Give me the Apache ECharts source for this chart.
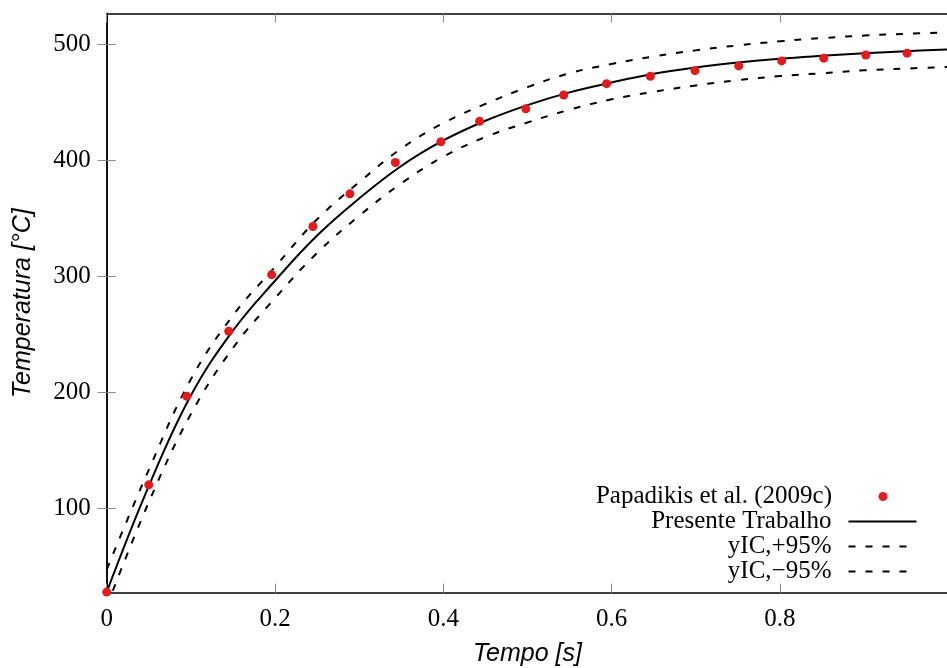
<!DOCTYPE html>
<html>
<head>
<meta charset="utf-8">
<script src="https://cdn.jsdelivr.net/npm/echarts@6/dist/echarts.min.js"></script>
<style>
html,body{margin:0;padding:0;background:#fff;}
#c{width:947px;height:668px;}
</style>
</head>
<body>
<div id="c"></div>
<script>
// ---- data ----
const tempo = [0, 0.05, 0.10, 0.15, 0.20, 0.25, 0.30, 0.35, 0.40, 0.45, 0.50, 0.55, 0.60, 0.65, 0.70, 0.75, 0.80, 0.85, 0.90, 0.95, 1.00];
const presente = [27.5, 119, 197, 253, 296, 335, 367, 395, 417, 434, 447.5, 458.5, 467, 474.5, 480, 484.2, 487.5, 490, 492.2, 494, 495.4];
const icMais = [47, 133, 211, 266, 308, 349, 381, 410, 432, 448.5, 463, 475, 483, 489.5, 494.7, 499, 502.5, 505.3, 507.5, 509, 510.3];
const icMenos = [15, 105, 181, 238, 281, 320, 352, 380, 403, 420, 432.5, 443.5, 452.5, 459, 464.5, 469, 472.5, 475, 477.5, 479, 480.5];
const papX = [0, 0.050, 0.095, 0.145, 0.196, 0.245, 0.289, 0.343, 0.397, 0.443, 0.498, 0.543, 0.594, 0.646, 0.699, 0.751, 0.802, 0.852, 0.902, 0.951];
const papY = [27.5, 120, 196.5, 252.5, 301.3, 342.8, 371, 398, 415.8, 433.5, 444.3, 456.2, 466, 472.4, 477.2, 481.3, 485.6, 488, 490.7, 492.3];
const xTicks = [0, 0.2, 0.4, 0.6, 0.8];
const xTickLabels = ['0', '0.2', '0.4', '0.6', '0.8'];
const yTicks = [100, 200, 300, 400, 500];
const yTickLabels = ['100', '200', '300', '400', '500'];
const names = ['Papadikis et al. (2009c)', 'Presente Trabalho', 'yIC,+95%', 'yIC,\u221295%'];

const pairs = (xs, ys) => xs.map((x, i) => [x, ys[i]]);
const serif = 'Liberation Serif';
const sans = 'Liberation Sans';
const tickColor = '#8a8a8a';

const chart = echarts.init(document.getElementById('c'), null, {renderer: 'canvas'});

function legendAt(name, top, right, itemHeight, isLine) {
  const l = {
    data: [name],
    orient: 'vertical',
    align: 'right',
    right: right,
    top: top,
    padding: 0,
    itemWidth: 68,
    itemHeight: itemHeight,
    selectedMode: false,
    textStyle: {fontFamily: serif, fontSize: 25, color: '#000', lineHeight: 25, padding: [0, 12, 0, 0]}
  };
  if (isLine) l.itemStyle = {opacity: 0, borderWidth: 0};
  return l;
}

const option = {
  animation: false,
  backgroundColor: '#fff',
  grid: {left: 106.7, top: 13.5, width: 841.6, height: 579.2, outerBoundsMode: 'none', containLabel: false},
  legend: [
    legendAt(names[0], 484, 59.5, 9, false),
    legendAt(names[1], 509, 29.5, 14, true),
    legendAt(names[2], 534, 29.5, 14, true),
    legendAt(names[3], 559, 29.5, 14, true)
  ],
  xAxis: [{
    type: 'value', min: 0, max: 1, position: 'bottom',
    name: 'Tempo [s]', nameLocation: 'middle', nameGap: 49,
    nameTextStyle: {fontFamily: sans, fontStyle: 'italic', fontSize: 25, color: '#000'},
    axisLine: {show: true, lineStyle: {color: '#000', width: 1.5}},
    axisTick: {show: true, inside: true, length: 9, customValues: xTicks, lineStyle: {color: tickColor, width: 1}},
    axisLabel: {show: true, customValues: xTicks, margin: 14, fontFamily: serif, fontSize: 25, color: '#000',
      formatter: v => { const i = xTicks.findIndex(t => Math.abs(t - v) < 1e-9); return i >= 0 ? xTickLabels[i] : ''; }},
    splitLine: {show: false}
  }, {
    type: 'value', min: 0, max: 1, position: 'top',
    axisLine: {show: true, lineStyle: {color: '#000', width: 1.5}},
    axisTick: {show: true, inside: true, length: 9, customValues: xTicks, lineStyle: {color: tickColor, width: 1}},
    axisLabel: {show: false},
    splitLine: {show: false}
  }],
  yAxis: [{
    type: 'value', min: 27, max: 526.5, position: 'left',
    name: 'Temperatura [\u00b0C]', nameLocation: 'middle', nameGap: 71, nameRotate: 90,
    nameTextStyle: {fontFamily: sans, fontStyle: 'italic', fontSize: 25, color: '#000'},
    axisLine: {show: true, lineStyle: {color: '#000', width: 1.5}},
    axisTick: {show: true, inside: true, length: 9, customValues: yTicks, lineStyle: {color: tickColor, width: 1}},
    axisLabel: {show: true, customValues: yTicks, margin: 16, fontFamily: serif, fontSize: 25, color: '#000',
      formatter: v => { const i = yTicks.indexOf(v); return i >= 0 ? yTickLabels[i] : ''; }},
    splitLine: {show: false}
  }, {
    type: 'value', min: 27, max: 526.5, position: 'right',
    axisLine: {show: true, lineStyle: {color: '#000', width: 1.5}},
    axisTick: {show: true, inside: true, length: 9, customValues: yTicks, lineStyle: {color: tickColor, width: 1}},
    axisLabel: {show: false},
    splitLine: {show: false}
  }],
  series: [{
    name: names[1], type: 'line', xAxisIndex: 0, yAxisIndex: 0,
    data: pairs(tempo, presente), symbol: 'none', showSymbol: false,
    smooth: 0.4, clip: true, z: 3,
    lineStyle: {color: '#000', width: 2, type: 'solid'},
    itemStyle: {color: '#000'}
  }, {
    name: names[2], type: 'line', xAxisIndex: 0, yAxisIndex: 0,
    data: pairs(tempo, icMais), symbol: 'none', showSymbol: false,
    smooth: 0.4, clip: true, z: 3,
    lineStyle: {color: '#000', width: 2, type: [7, 10]},
    itemStyle: {color: '#000'}
  }, {
    name: names[3], type: 'line', xAxisIndex: 0, yAxisIndex: 0,
    data: pairs(tempo, icMenos), symbol: 'none', showSymbol: false,
    smooth: 0.4, clip: true, z: 3,
    lineStyle: {color: '#000', width: 2, type: [7, 10]},
    itemStyle: {color: '#000'}
  }, {
    name: names[0], type: 'scatter', xAxisIndex: 0, yAxisIndex: 0,
    data: pairs(papX, papY), symbol: 'circle', symbolSize: 9, clip: false, z: 4,
    itemStyle: {color: '#e41a1c', opacity: 1}
  }]
};
chart.setOption(option);
</script>
</body>
</html>
